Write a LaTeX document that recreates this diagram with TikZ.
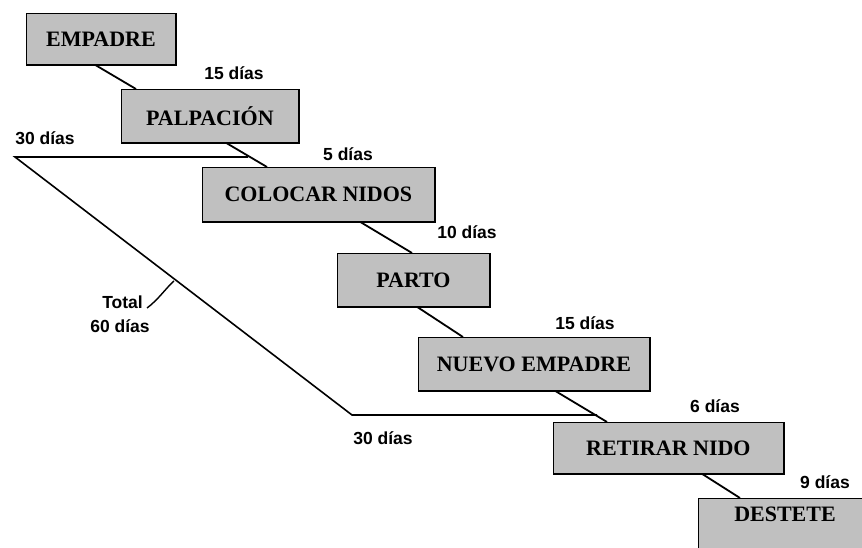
\documentclass[tikz,border=0pt]{standalone}
\usepackage{fontspec}
\setmainfont{Liberation Serif}
\newfontfamily\lblfont{Liberation Sans}
\usetikzlibrary{calc}
\definecolor{boxgray}{HTML}{C0C0C0}
\tikzset{
  x=1pt, y=-1pt,
  boxfont/.style={font=\fontsize{22}{24}\selectfont\bfseries},
  box/.style={draw, line width=0.8pt, fill=boxgray, anchor=north west, inner sep=0pt, boxfont},
  edge/.style={line width=1.8pt},
  conn/.style={line width=1.8pt},
  brk/.style={line width=1.6pt},
  lbl/.style={font=\lblfont\fontsize{17.5}{19}\selectfont\bfseries, inner sep=0pt},
}
\begin{document}
\begin{tikzpicture}
\useasboundingbox (0,0) rectangle (862,548);
\clip (0,0) rectangle (862,548);
% boxes
\node[box, minimum width=149pt, minimum height=51pt] (empadre) at (26,13) {EMPADRE};
\node[box, minimum width=177pt, minimum height=53pt] (palpacion) at (121,89) {PALPACIÓN};
\node[box, minimum width=232pt, minimum height=54pt] (colocar) at (202,167) {COLOCAR NIDOS};
\node[box, minimum width=152pt, minimum height=53pt] (parto) at (337,253) {PARTO};
\node[box, minimum width=231pt, minimum height=53pt] (nuevo) at (418,337) {NUEVO EMPADRE};
\node[box, minimum width=230pt, minimum height=51pt] (retirar) at (553,422) {RETIRAR NIDO};
\node[box, minimum width=180pt, minimum height=80pt] (destete) at (698,498) {};
\node[boxfont, inner sep=0pt] (destetetxt) at ($(destete.north west)+(87,16)$) {DESTETE};
% heavier bottom and right edges
\foreach \b in {empadre,palpacion,colocar,parto,nuevo,retirar,destete}{
  \draw[edge] (\b.south west) -- (\b.south east) -- (\b.north east);
}
% connectors
\draw[conn] ($(empadre.south west)+(69,0)$) -- ($(palpacion.north west)+(15,0)$);
\draw[conn] ($(palpacion.south west)+(105,0)$) -- ($(colocar.north west)+(65,0)$);
\draw[conn] ($(colocar.south west)+(158,0)$) -- ($(parto.north west)+(75,0)$);
\draw[conn] ($(parto.south west)+(80,0)$) -- ($(nuevo.north west)+(45,0)$);
\draw[conn] ($(nuevo.south west)+(137,0)$) -- ($(retirar.north west)+(54,0)$);
\draw[conn] ($(retirar.south west)+(149,0)$) -- ($(destete.north west)+(42,0)$);
% bracket
\coordinate (bA) at (248,157);
\coordinate (bB) at (15,157);
\coordinate (bC) at (352,415);
\coordinate (bD) at (597,415);
\draw[brk] (bA) -- (bB) -- (bC) -- (bD);
% labels
\node[lbl] (l1) at (234,73) {15 días};
\node[lbl] (l2) at (45,138) {30 días};
\node[lbl] (l3) at (348,154) {5 días};
\node[lbl] (l4) at (467,232) {10 días};
\node[lbl] (l5) at (585,323) {15 días};
\node[lbl] (l6) at (715,406) {6 días};
\node[lbl] (l7) at (825,482) {9 días};
\node[lbl] (l8) at (383,438) {30 días};
\node[lbl, anchor=east] (tot) at (143,302) {Total};
\node[lbl] (tot2) at (120,326) {60 días};
\coordinate (tk) at (174,281);
\draw[line width=1.4pt] ($(tot.east)+(4,6)$) .. controls (158,300) and (166,288) .. (tk);
\end{tikzpicture}
\end{document}
